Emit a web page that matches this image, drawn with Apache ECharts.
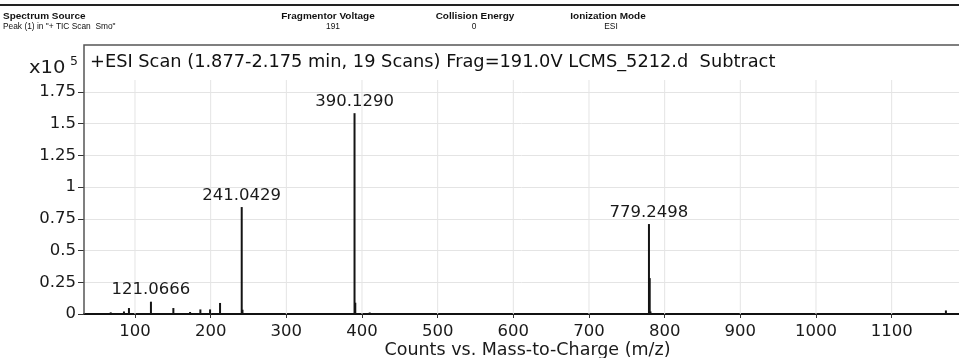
<!DOCTYPE html>
<html>
<head>
<meta charset="utf-8">
<script src="https://cdn.jsdelivr.net/npm/echarts@6/dist/echarts.min.js"></script>
<style>
  html, body { margin: 0; padding: 0; background: #fff; }
  #chart { width: 959px; height: 358px; }
</style>
</head>
<body>
<div id="chart"></div>
<script>
// Centroided peaks: m/z and abundance (counts x 10^5)
const peakMz = [67.9, 85.4, 92.0, 121.0666, 150.7, 172.8, 186.4, 199.2, 212.4,
                241.0429, 242.05, 390.1290, 391.13, 410.2, 427.0,
                779.2498, 780.25, 781.25, 804.0, 820.0, 1171.7];
const peakCounts = [0.013, 0.02, 0.047, 0.097, 0.047, 0.016, 0.036, 0.036, 0.087,
                    0.843, 0.034, 1.583, 0.089, 0.012, 0.004,
                    0.709, 0.283, 0.02, 0.008, 0.004, 0.028];
// Peaks annotated with their m/z
const labelledMz = [121.0666, 241.0429, 390.1290, 779.2498];

const xTicks = [100, 200, 300, 400, 500, 600, 700, 800, 900, 1000, 1100];
const yTicks = [0, 0.25, 0.5, 0.75, 1, 1.25, 1.5, 1.75];

// Acquisition header fields
const headerNames = ['Spectrum Source', 'Fragmentor Voltage', 'Collision Energy', 'Ionization Mode'];
const headerValues = ['Peak (1) in "+ TIC Scan  Smo"', '191', '0', 'ESI'];

const plotTitle = '+ESI Scan (1.877-2.175 min, 19 Scans) Frag=191.0V LCMS_5212.d  Subtract';
const xName = 'Counts vs. Mass-to-Charge (m/z)';

// Layout
const GRID_LEFT = 84, GRID_TOP = 92, GRID_BOTTOM = 44, FRAME_TOP = 45;
const W = 959, H = 358;
const AXIS_Y = H - GRID_BOTTOM;
const FONT = 'DejaVu Sans';
const HEAD_FONT = '"Liberation Sans", Arial, sans-serif';
// header column anchors
const headerNameX = [3, 328, 475, 608];
const headerValueX = [3, 333, 474, 611];
const headerAlign = ['left', 'center', 'center', 'center'];

const chart = echarts.init(document.getElementById('chart'), null, { renderer: 'canvas' });

const barData = peakMz.map((m, i) => {
  const item = { value: [m, peakCounts[i]] };
  if (labelledMz.includes(m)) {
    item.label = { show: true };
  }
  return item;
});

function headText(x, y, text, bold, align) {
  return {
    type: 'text', x: x, y: y,
    scaleX: bold ? 1.05 : 0.88,
    style: {
      text: text, fill: '#111', textAlign: align, textVerticalAlign: 'middle',
      font: (bold ? 'bold ' : '') + '9.5px ' + HEAD_FONT
    }
  };
}

const headerGraphics = [];
headerNames.forEach((name, i) => {
  headerGraphics.push(headText(headerNameX[i], 16, name, true, headerAlign[i]));
  headerGraphics.push(headText(headerValueX[i], 26, headerValues[i], false, headerAlign[i]));
});

const option = {
  animation: false,
  backgroundColor: '#fff',
  grid: {
    left: GRID_LEFT, right: 0, top: GRID_TOP, bottom: GRID_BOTTOM,
    containLabel: false, outerBoundsMode: 'none'
  },
  xAxis: {
    type: 'value',
    min: 32.6,
    max: 1189,
    name: xName,
    nameLocation: 'middle',
    nameGap: 27,
    nameMoveOverlap: false,
    nameTextStyle: { fontFamily: FONT, fontSize: 17.5, color: '#1a1a1a', padding: [0, 0, 0, 12] },
    axisLine: { show: true, lineStyle: { color: '#111', width: 2 } },
    axisTick: { show: true, length: 4, customValues: xTicks, lineStyle: { color: '#333' } },
    axisLabel: {
      customValues: xTicks, margin: 9,
      fontFamily: FONT, fontSize: 16.5, color: '#1a1a1a',
      formatter: v => String(v)
    },
    splitLine: { show: false }
  },
  yAxis: {
    type: 'value',
    min: 0,
    max: 1.75,
    interval: 0.25,
    axisLine: { show: false },
    axisTick: { show: true, length: 6, lineStyle: { color: '#333' } },
    axisLabel: { margin: 8, fontFamily: FONT, fontSize: 16.5, color: '#1a1a1a' },
    splitLine: { show: true, lineStyle: { color: '#e4e4e4', width: 1 } }
  },
  series: [
    {
      // vertical grid lines at the m/z ticks, reaching a little above the top tick
      type: 'custom',
      silent: true,
      z: 1,
      clip: false,
      data: xTicks.map(v => [v, 0]),
      encode: { x: 0, y: 1 },
      renderItem: function (params, api) {
        const v = api.value(0);
        const p0 = api.coord([v, 0]);
        const p1 = api.coord([v, yTicks[yTicks.length - 1]]);
        return {
          type: 'line',
          shape: { x1: p0[0], y1: p0[1], x2: p1[0], y2: p1[1] - 12 },
          style: { stroke: '#e4e4e4', lineWidth: 1 }
        };
      }
    },
    {
      type: 'bar',
      z: 3,
      barWidth: 2,
      itemStyle: { color: '#141414' },
      label: {
        show: false,
        position: 'top',
        distance: 3,
        fontFamily: FONT,
        fontSize: 16.5,
        color: '#1a1a1a',
        formatter: p => p.value[0].toFixed(4)
      },
      data: barData
    }
  ],
  graphic: [
    // rule across the top of the page
    { type: 'line', shape: { x1: 0, y1: 5, x2: W, y2: 5 }, style: { stroke: '#222', lineWidth: 2 } },
    ...headerGraphics,
    // plot frame (top and left)
    {
      type: 'polyline', z: 10,
      shape: { points: [[W, FRAME_TOP], [GRID_LEFT, FRAME_TOP], [GRID_LEFT, AXIS_Y]] },
      style: { stroke: '#555', lineWidth: 1.5, fill: null }
    },
    {
      type: 'text', left: 90, top: 53, z: 10,
      style: { text: plotTitle, fill: '#111', font: '17.8px ' + FONT }
    },
    // abundance multiplier
    {
      type: 'text', x: 29, y: 60, scaleX: 1.15, z: 10,
      style: { text: 'x10', fill: '#1a1a1a', font: '17px ' + FONT }
    },
    {
      type: 'text', left: 70, top: 55, z: 10,
      style: { text: '5', fill: '#1a1a1a', font: '12.5px ' + FONT }
    }
  ]
};

chart.setOption(option);
</script>
</body>
</html>
